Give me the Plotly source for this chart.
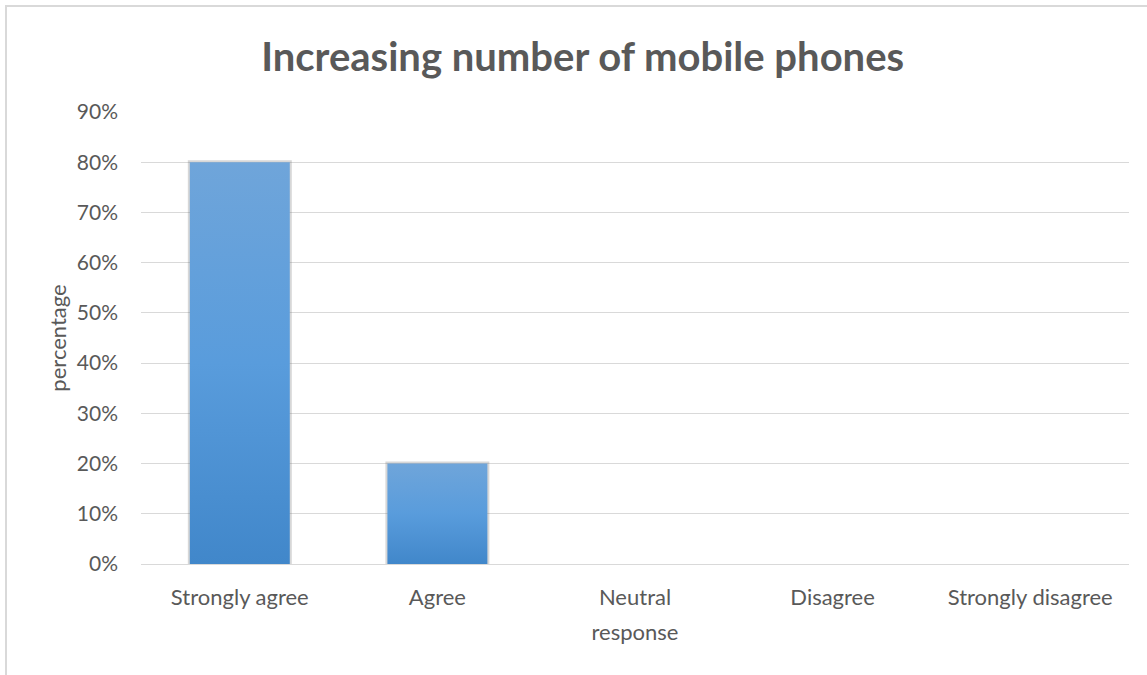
import plotly.graph_objects as go

# Survey responses: share of respondents per answer
categories = ["Strongly agree", "Agree", "Neutral", "Disagree", "Strongly disagree"]
percentages = [0.80, 0.20, 0.0, 0.0, 0.0]
tick_values = [0.0, 0.1, 0.2, 0.3, 0.4, 0.5, 0.6, 0.7, 0.8, 0.9]

FONT = "Lato"
TEXT_GRAY = "#595959"
GRID_GRAY = "#d9d9d9"
BAR_WIDTH = 0.506

positions = list(range(len(categories)))

fig = go.Figure()

# soft halo around each non-empty bar
halo_colors = ["rgba(110,110,110,0.28)" if v > 0 else "rgba(0,0,0,0)" for v in percentages]
fig.add_trace(go.Bar(
    x=positions, y=percentages, width=BAR_WIDTH,
    marker=dict(color="rgba(0,0,0,0)",
                line=dict(color=halo_colors, width=4)),
    hoverinfo="skip", showlegend=False,
))

# gradient-filled bars (lighter at the top, deeper blue at the base)
for pos, val in zip(positions, percentages):
    if val <= 0:
        continue
    x0, x1 = pos - BAR_WIDTH / 2, pos + BAR_WIDTH / 2
    fig.add_trace(go.Scatter(
        x=[x0, x0, x1, x1, x0], y=[0, val, val, 0, 0],
        mode="lines", line=dict(width=0), fill="toself",
        fillgradient=dict(type="vertical",
                          colorscale=[[0, "#4187ca"], [0.5, "#599cdc"], [1, "#6fa5da"]]),
        hoverinfo="skip", showlegend=False,
    ))

fig.update_layout(
    width=1147, height=675,
    margin=dict(l=141, r=18, t=112, b=111),
    paper_bgcolor="white", plot_bgcolor="white",
    font=dict(family=FONT, color=TEXT_GRAY, size=21),
    title=dict(text="<b>Increasing number of mobile phones</b>",
               x=0.508, xanchor="center", y=1 - 57 / 675, yanchor="middle",
               yref="container", font=dict(family=FONT, size=40, color=TEXT_GRAY)),
    showlegend=False,
    xaxis=dict(
        range=[-0.5, 4.5], tickvals=positions, ticktext=categories,
        showgrid=False, zeroline=False, showline=False, ticks="",
        tickfont=dict(size=22, color=TEXT_GRAY), ticklabelstandoff=18,
        title=dict(text="response", font=dict(size=22, color=TEXT_GRAY), standoff=15),
    ),
    yaxis=dict(
        range=[0, 0.9], tickvals=tick_values, tickformat=".0%",
        showgrid=True, gridcolor=GRID_GRAY, gridwidth=1.3,
        zeroline=True, zerolinecolor=GRID_GRAY, zerolinewidth=1.3,
        showline=False, ticks="", ticklabelstandoff=22,
        tickfont=dict(size=21, color=TEXT_GRAY),
        title=dict(text="percentage", font=dict(size=22, color=TEXT_GRAY), standoff=4),
    ),
    shapes=[dict(type="rect", xref="paper", yref="paper",
                 x0=(6 - 141) / 988, x1=(1160 - 141) / 988,
                 y0=-(690 - 564) / 452, y1=1 + (112 - 6) / 452,
                 line=dict(color=GRID_GRAY, width=2), layer="below")],
)

fig.write_html("out.html")
